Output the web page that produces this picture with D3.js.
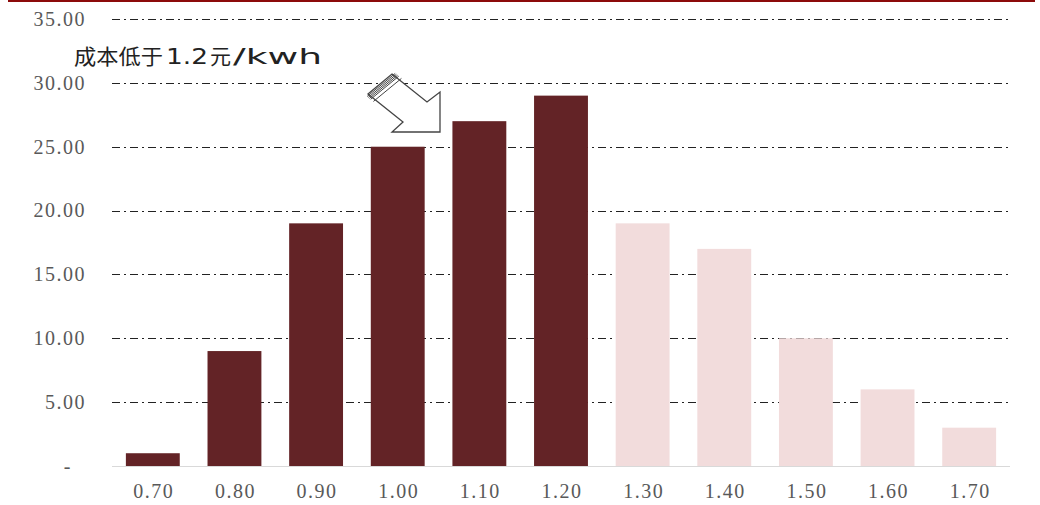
<!DOCTYPE html>
<html><head><meta charset="utf-8">
<script src="https://cdn.jsdelivr.net/npm/d3@7"></script>
<style>body{margin:0;background:#fff}</style>
</head><body>
<svg id="c" width="1040" height="505"></svg>
<script>
const categories = ["0.70","0.80","0.90","1.00","1.10","1.20","1.30","1.40","1.50","1.60","1.70"];
const values = [1, 9, 19, 25, 27, 29, 19, 17, 10, 6, 3];
const highlighted = [true, true, true, true, true, true, false, false, false, false, false];
const yTicks = [0, 5, 10, 15, 20, 25, 30, 35];
const yTickLabels = ["-", "5.00", "10.00", "15.00", "20.00", "25.00", "30.00", "35.00"];
const annotationParts = ["成本低于", "1.2", "元", "/kwh"];

const svg = d3.select("#c");
const L = 112, R = 1010, T = 19, B = 466;
const x = d3.scaleBand().domain(categories).range([L, R]).paddingInner(0.34).paddingOuter(0.17);
const y = d3.scaleLinear().domain([0, 35]).range([B, T]);

// top rule
svg.append("line").attr("x1", 8).attr("x2", 1035).attr("y1", 1).attr("y2", 1)
  .attr("stroke", "#8c0a0a").attr("stroke-width", 2);

// gridlines
svg.append("g").selectAll("line").data(yTicks.filter(d => d > 0)).join("line")
  .attr("x1", L).attr("x2", R).attr("y1", d => Math.round(y(d)) + 0.5).attr("y2", d => Math.round(y(d)) + 0.5)
  .attr("stroke", "#222").attr("stroke-width", 1).attr("stroke-dasharray", "8,4,2,4");

// bars
svg.append("g").selectAll("rect").data(categories).join("rect")
  .attr("x", d => x(d)).attr("width", x.bandwidth())
  .attr("y", (d, i) => y(values[i])).attr("height", (d, i) => B - y(values[i]))
  .attr("fill", (d, i) => highlighted[i] ? "#632326" : "#f2dcdc");

// baseline
svg.append("line").attr("x1", L).attr("x2", R).attr("y1", B + 0.5).attr("y2", B + 0.5)
  .attr("stroke", "#d9d9d9").attr("stroke-width", 1.2);

// y axis
const yAxis = d3.axisLeft(y).tickValues(yTicks).tickFormat((d, i) => yTickLabels[i]).tickSize(0).tickPadding(26);
const gy = svg.append("g").attr("transform", `translate(${L},0)`).call(yAxis);
gy.select(".domain").remove();
gy.selectAll("text").attr("font-family", "Liberation Serif, serif").attr("font-size", 20)
  .attr("letter-spacing", 1.5).attr("fill", "#595959")
  .attr("dx", d => d === 0 ? -14 : 0);

// x axis
const xAxis = d3.axisBottom(x).tickSize(0).tickPadding(18);
const gx = svg.append("g").attr("transform", `translate(0,${B})`).call(xAxis);
gx.select(".domain").remove();
gx.selectAll("text").attr("font-family", "Liberation Serif, serif").attr("font-size", 20)
  .attr("letter-spacing", 1.5).attr("dx", 1).attr("fill", "#595959");

// annotation text (pieces stretched to fit the wide original typesetting)
const annX = [74, 166, 210, 233];
const annLen = [89, 42, 21, 89];
const annFont = ["Noto Sans CJK SC, sans-serif", "DejaVu Sans, sans-serif", "Noto Sans CJK SC, sans-serif", "DejaVu Sans, sans-serif"];
svg.append("g").selectAll("text").data(annotationParts).join("text")
  .attr("x", (d, i) => annX[i]).attr("y", 64)
  .attr("textLength", (d, i) => annLen[i]).attr("lengthAdjust", "spacingAndGlyphs")
  .attr("font-family", (d, i) => annFont[i]).attr("font-size", 21).attr("fill", "#222")
  .text(d => d);

// arrow
const arrowPts = [[392,74],[427,102],[440,92],[440,132],[392,132],[403,122],[368,94]];
svg.append("polygon").attr("points", arrowPts.map(p => p.join(",")).join(" "))
  .attr("fill", "#fff").attr("stroke", "#444").attr("stroke-width", 1.3).attr("stroke-linejoin", "miter");
const ux = 0.781, uy = 0.625;
const hatch = [1.5, 3, 4.5, 6, 9.5];
svg.append("g").selectAll("line").data(hatch).join("line")
  .attr("x1", d => 366 + ux * d).attr("y1", d => 95.5 + uy * d)
  .attr("x2", d => 394 + ux * d).attr("y2", d => 72.5 + uy * d)
  .attr("stroke", "#444").attr("stroke-width", 1);
</script>
</body></html>
